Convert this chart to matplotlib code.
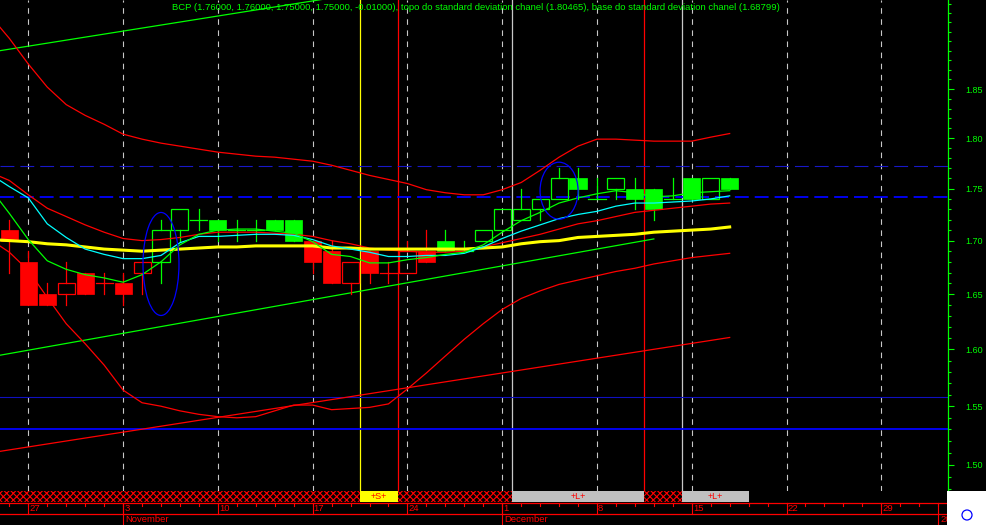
import numpy as np
import pandas as pd
import matplotlib
matplotlib.use('Agg')
import matplotlib.pyplot as plt
from matplotlib.patches import Rectangle, Ellipse
from matplotlib.ticker import FixedLocator, FixedFormatter, NullFormatter
from matplotlib.transforms import ScaledTranslation

plt.rcParams['lines.scale_dashes'] = False
plt.rcParams['hatch.linewidth'] = 0.8

# --- Data: BCP daily, Oct-Dec 2008 ---
TITLE = ('BCP (1.76000, 1.76000, 1.75000, 1.75000, -0.01000), '
         'topo do standard deviation chanel (1.80465), '
         'base do standard deviation chanel (1.68799)')
FIRST_DAY = '2008-10-23'      # first indicator value
LAST_AXIS_DAY = '2009-01-02'  # axis runs into the future

# candles start on 2008-10-24
opens  = [1.71, 1.68, 1.65, 1.65, 1.67, 1.66, 1.66, 1.67, 1.68, 1.71,
          1.72, 1.72, 1.71, 1.71, 1.72, 1.72, 1.70, 1.69, 1.66, 1.69,
          1.67, 1.67, 1.69, 1.70, 1.69, 1.70, 1.71, 1.72, 1.73, 1.74,
          1.76, 1.74, 1.75, 1.75, 1.75, 1.74, 1.76, 1.74, 1.76]
highs  = [1.72, 1.69, 1.66, 1.68, 1.67, 1.67, 1.67, 1.68, 1.72, 1.73,
          1.73, 1.72, 1.72, 1.72, 1.72, 1.72, 1.70, 1.70, 1.68, 1.69,
          1.68, 1.70, 1.71, 1.71, 1.70, 1.71, 1.73, 1.75, 1.74, 1.77,
          1.77, 1.76, 1.76, 1.76, 1.75, 1.76, 1.76, 1.76, 1.76]
lows   = [1.67, 1.64, 1.64, 1.64, 1.65, 1.65, 1.64, 1.65, 1.66, 1.70,
          1.71, 1.70, 1.70, 1.70, 1.71, 1.70, 1.67, 1.66, 1.65, 1.66,
          1.66, 1.67, 1.68, 1.69, 1.69, 1.70, 1.71, 1.72, 1.72, 1.74,
          1.74, 1.74, 1.74, 1.73, 1.72, 1.74, 1.74, 1.74, 1.75]
closes = [1.70, 1.64, 1.64, 1.66, 1.65, 1.66, 1.65, 1.68, 1.71, 1.73,
          1.72, 1.71, 1.71, 1.71, 1.71, 1.70, 1.68, 1.66, 1.68, 1.67,
          1.67, 1.69, 1.68, 1.69, 1.69, 1.71, 1.73, 1.73, 1.74, 1.76,
          1.75, 1.74, 1.76, 1.74, 1.73, 1.74, 1.74, 1.76, 1.75]
# candle colour given by the charting package (G / R)
trend = 'RRRRRRRRGGGGGGGGRRRRRRRGGGGGGGGGGGGGGGG'

# indicators start on 2008-10-23
ma_fast = [1.750, 1.726, 1.701, 1.681, 1.673, 1.668, 1.665, 1.661, 1.668, 1.680,
           1.696, 1.706, 1.710, 1.711, 1.711, 1.709, 1.707, 1.699, 1.687, 1.685,
           1.679, 1.679, 1.682, 1.684, 1.687, 1.689, 1.696, 1.708, 1.719, 1.727,
           1.736, 1.741, 1.745, 1.748, 1.746, 1.742, 1.743, 1.746, 1.747, 1.748]
ma_mid  = [1.764, 1.752, 1.741, 1.716, 1.703, 1.692, 1.687, 1.683, 1.683, 1.686,
           1.698, 1.704, 1.704, 1.705, 1.706, 1.706, 1.705, 1.701, 1.695, 1.692,
           1.689, 1.685, 1.685, 1.686, 1.686, 1.688, 1.694, 1.702, 1.709, 1.715,
           1.721, 1.725, 1.728, 1.733, 1.736, 1.736, 1.737, 1.738, 1.740, 1.743]
ma_red  = [1.766, 1.758, 1.744, 1.731, 1.723, 1.715, 1.708, 1.702, 1.700, 1.701,
           1.703, 1.706, 1.708, 1.708, 1.708, 1.707, 1.706, 1.704, 1.700, 1.697,
           1.693, 1.691, 1.690, 1.689, 1.689, 1.690, 1.694, 1.698, 1.702, 1.706,
           1.711, 1.716, 1.719, 1.723, 1.727, 1.729, 1.731, 1.733, 1.735, 1.736]
ma_long = [1.701, 1.700, 1.699, 1.697, 1.696, 1.694, 1.692, 1.691, 1.690, 1.691,
           1.692, 1.693, 1.694, 1.694, 1.695, 1.695, 1.695, 1.695, 1.693, 1.693,
           1.692, 1.692, 1.692, 1.692, 1.692, 1.692, 1.693, 1.694, 1.697, 1.699,
           1.700, 1.703, 1.704, 1.705, 1.706, 1.708, 1.709, 1.710, 1.711, 1.713]
sd_top  = [1.927, 1.903, 1.876, 1.852, 1.834, 1.823, 1.814, 1.804, 1.799, 1.795,
           1.792, 1.789, 1.786, 1.784, 1.782, 1.781, 1.779, 1.777, 1.773, 1.768,
           1.763, 1.759, 1.755, 1.749, 1.746, 1.744, 1.744, 1.749, 1.756, 1.768,
           1.781, 1.792, 1.799, 1.799, 1.798, 1.797, 1.797, 1.797, 1.801, 1.80465]
sd_base = [1.701, 1.689, 1.672, 1.647, 1.623, 1.605, 1.586, 1.564, 1.553, 1.550,
           1.546, 1.543, 1.541, 1.540, 1.541, 1.546, 1.551, 1.551, 1.547, 1.548,
           1.549, 1.552, 1.565, 1.579, 1.594, 1.609, 1.623, 1.636, 1.646, 1.653,
           1.659, 1.663, 1.667, 1.671, 1.674, 1.678, 1.681, 1.684, 1.686, 1.68799]

# hand drawn trendlines: (day, price) -> (day, price)
trend_green_top = [('2008-10-23', 1.8884), ('2008-11-24', 1.9596)]
trend_green_low = [('2008-10-23', 1.5932), ('2008-12-11', 1.7016)]
trend_red_low   = [('2008-10-23', 1.5102), ('2008-12-17', 1.6106)]

# horizontal levels
levels_dashed = [1.772, 1.7416]
levels_solid = [1.558, 1.530]

# trading system signals: (kind, first day, last day, closed?)
signals = [('S', '2008-11-20', '2008-11-21', True),
           ('L', '2008-12-02', '2008-12-10', True),
           ('L', '2008-12-15', '2008-12-18', False)]

# marked patterns: (day, price)
circles = [('2008-11-05', 1.678), ('2008-12-04', 1.748)]

price_major = [1.50, 1.55, 1.60, 1.65, 1.70, 1.75, 1.80, 1.85]

# --- Colours ---
GREEN = '#00ff00'
RED = '#ff0000'
YELLOW = '#ffff00'
CYAN = '#00ffff'
BLUE = '#0000ff'
GREY = '#c8c8c8'
FONT = 'Liberation Sans'

days = pd.bdate_range(FIRST_DAY, LAST_AXIS_DAY)
pos = {d: k for k, d in enumerate(days)}


def xi(day):
    return pos[pd.Timestamp(day)]


X0, X1 = 0.507, 50.518
Y0, Y1 = 1.4784, 1.9442

fig = plt.figure(figsize=(9.86, 5.25), dpi=100, facecolor='black')
ax = fig.add_axes([0, 34 / 525, 948 / 986, 491 / 525], facecolor='black')
axb = fig.add_axes([0, 0, 948 / 986, 34 / 525], facecolor='black', sharex=ax)

ax.set_yscale('log')
ax.set_xlim(X0, X1)
ax.set_ylim(Y0, Y1)

for s in ['left', 'top', 'bottom']:
    ax.spines[s].set_visible(False)
ax.spines['right'].set_color(GREEN)
ax.spines['right'].set_linewidth(0.9)
ax.tick_params(axis='x', bottom=False, labelbottom=False)

ax.yaxis.tick_right()
ax.yaxis.set_major_locator(FixedLocator(price_major))
ax.yaxis.set_major_formatter(FixedFormatter([f'{p:.2f}' for p in price_major]))
minor = [round(1.48 + 0.01 * k, 2) for k in range(47)]
ax.yaxis.set_minor_locator(FixedLocator([m for m in minor if m not in price_major]))
ax.yaxis.set_minor_formatter(NullFormatter())
ax.tick_params(axis='y', which='major', direction='out', length=4.3, width=0.8,
               color=GREEN, labelcolor=GREEN, labelsize=6.5, pad=8.5)
ax.tick_params(axis='y', which='minor', direction='out', length=2.2, width=0.8,
               color=GREEN)
for lab in ax.get_yticklabels():
    lab.set_fontfamily(FONT)

# weekly grid
mondays = [k for k, d in enumerate(days) if d.weekday() == 0]
for k in mondays:
    ax.axvline(k, color=GREY, lw=0.8, ls=(0, (4, 4)), zorder=1)

# signal verticals
for kind, a, b, closed in signals:
    ax.axvline(xi(a) - 0.5, color=YELLOW if kind == 'S' else GREY, lw=0.9, zorder=1)
    if closed:
        ax.axvline(xi(b) + 0.5, color=RED, lw=0.9, zorder=1)

# horizontal levels
ax.axhline(levels_dashed[0], color='#1818c8', lw=0.8, ls=(0, (10, 4.3)), zorder=1)
ax.axhline(levels_dashed[1], color=BLUE, lw=1.3, ls=(0, (10, 4.3)), zorder=1)
ax.axhline(levels_solid[0], color='#1010c0', lw=0.8, zorder=1)
ax.axhline(levels_solid[1], color=BLUE, lw=1.3, zorder=1)

# trendlines
for seg, col in [(trend_green_top, GREEN), (trend_green_low, GREEN), (trend_red_low, RED)]:
    ax.plot([xi(seg[0][0]), xi(seg[1][0])], [seg[0][1], seg[1][1]], color=col, lw=0.9, zorder=2)

# candles
cx = np.arange(len(opens)) + xi('2008-10-24')
half = 0.45
for x, o, h, l, c, t in zip(cx, opens, highs, lows, closes, trend):
    col = GREEN if t == 'G' else RED
    top, bot = max(o, c), min(o, c)
    if c > o:
        ax.plot([x, x], [top, h], color=col, lw=0.9, zorder=3)
        ax.plot([x, x], [l, bot], color=col, lw=0.9, zorder=3)
        ax.add_patch(Rectangle((x - half, bot), 2 * half, top - bot, facecolor='none',
                               edgecolor=col, lw=0.9, zorder=3))
    else:
        ax.plot([x, x], [l, h], color=col, lw=0.9, zorder=3)
        if c == o:
            ax.plot([x - half, x + half], [o, o], color=col, lw=0.9, zorder=3)
        else:
            ax.add_patch(Rectangle((x - half, bot), 2 * half, top - bot, facecolor=col,
                                   edgecolor=col, lw=0.5, zorder=3))

# indicators
lx = np.arange(len(ma_fast))
ax.plot(lx, sd_top, color=RED, lw=0.9, zorder=4)
ax.plot(lx, sd_base, color=RED, lw=0.9, zorder=4)
ax.plot(lx, ma_red, color=RED, lw=0.9, zorder=4)
ax.plot(lx, ma_long, color=YELLOW, lw=2.2, zorder=4)
ax.plot(lx, ma_mid, color=CYAN, lw=0.9, zorder=5)
ax.plot(lx, ma_fast, color=GREEN, lw=0.9, zorder=5)

# marked patterns (ellipses sized in pixels)
for (d, p), (w, hgt) in zip(circles, [(36, 103), (38, 57)]):
    tr = fig.dpi_scale_trans + ScaledTranslation(xi(d), p, ax.transData)
    ax.add_patch(Ellipse((0, 0), w / 100, hgt / 100, transform=tr,
                         facecolor='none', edgecolor=BLUE, lw=0.9, zorder=6))

# --- bottom strip: signals + date axis (y in pixels from strip top) ---
axb.set_ylim(34, 0)
axb.set_axis_off()
band_end = xi(signals[-1][2])
axb.add_patch(Rectangle((X0, 0), band_end - X0, 11.3, facecolor='black',
                        edgecolor=RED, hatch='xxxxx', lw=0))
for kind, a, b, closed in signals:
    x_a = xi(a) - 0.5
    x_b = xi(b) + 0.5 if closed else xi(b)
    face = YELLOW if kind == 'S' else '#c0c0c0'
    axb.add_patch(Rectangle((x_a, 0), x_b - x_a, 11.3, facecolor=face, lw=0))
    axb.text((x_a + x_b) / 2, 5.8, f'+{kind}+', color=RED, fontsize=6.5,
             family=FONT, ha='center', va='center')

axb.axhline(11.5, color=RED, lw=0.9)
axb.axhline(23, color=RED, lw=0.9)
for k in range(len(days)):
    axb.plot([k, k], [11.5, 14.8], color=RED, lw=0.8)
for k in mondays:
    axb.plot([k, k], [11.5, 23], color=RED, lw=0.8)
    axb.text(k + 0.06, 17.6, str(days[k].day), color=RED, fontsize=6.8,
             family=FONT, ha='left', va='center')
month_starts = [k for k in range(1, len(days)) if days[k].month != days[k - 1].month]
for k in month_starts:
    axb.plot([k, k], [11.5, 34], color=RED, lw=0.8)
    name = days[k].strftime('%B') if days[k].month != 1 else str(days[k].year)
    axb.text(k + 0.12, 29, name, color=RED, fontsize=6.8, family=FONT,
             ha='left', va='center', clip_on=False)

# white corner box with a small circle
fig.add_artist(Rectangle((947 / 986, 0), 39 / 986, 34 / 525, facecolor='white',
                         lw=0, transform=fig.transFigure, zorder=10))
fig.add_artist(Ellipse((967 / 986, 10 / 525), 10 / 986, 10 / 525, facecolor='none',
                       edgecolor=BLUE, lw=0.9, transform=fig.transFigure, zorder=11))

fig.text(172 / 986, 1 - 7 / 525, TITLE, color=GREEN, fontsize=6.8, family=FONT,
         ha='left', va='center')

fig.savefig('out.png', dpi=100, facecolor='black')
